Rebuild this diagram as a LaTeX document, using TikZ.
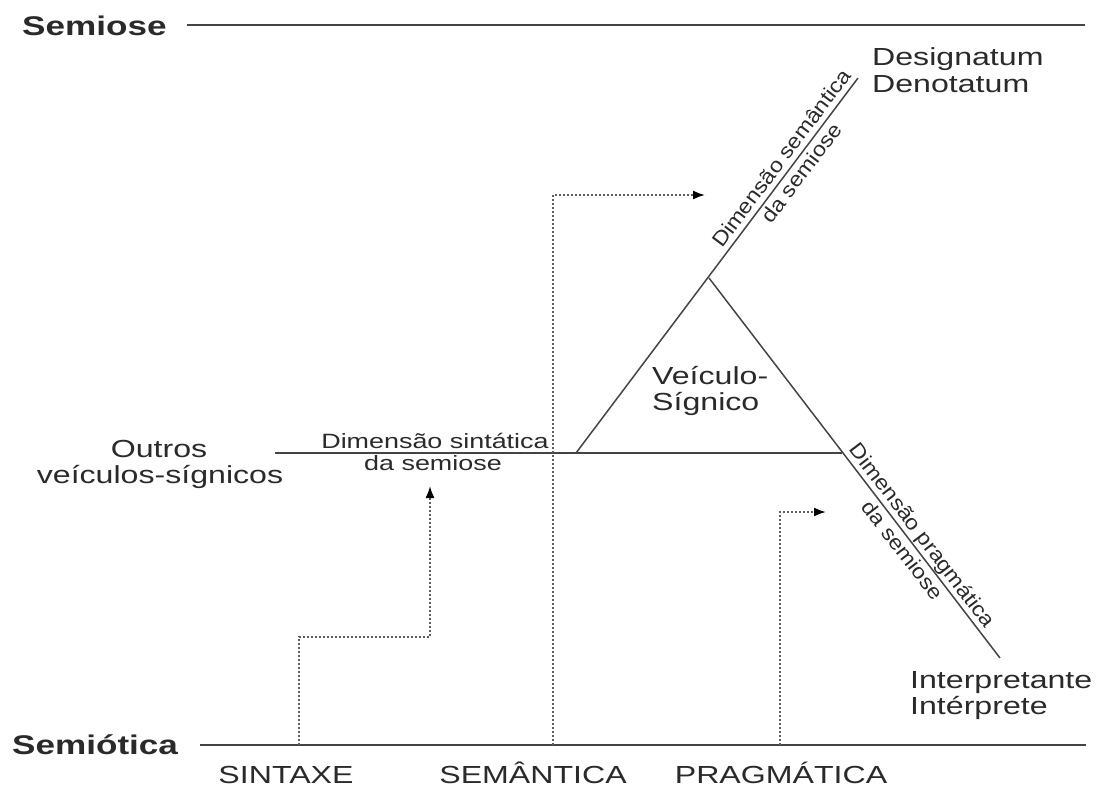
\documentclass[tikz,border=0pt]{standalone}
\usepackage{fontspec}
\usetikzlibrary{arrows.meta}
\newfontfamily\hfont[FakeStretch=1.3]{Liberation Sans}
\newfontfamily\rfont[FakeStretch=1.12]{Liberation Sans}
\definecolor{ink}{HTML}{2A2A2A}
\definecolor{lin}{HTML}{444444}
\definecolor{dotc}{HTML}{5E5E5E}
\tikzset{
  lbl/.style={inner sep=0pt, text=ink, font=\hfont\fontsize{24.7}{26}\selectfont},
  ttl/.style={inner sep=0pt, text=ink, font=\hfont\bfseries\fontsize{27}{29}\selectfont},
  dimtxt/.style={inner sep=0pt, text=ink, font=\hfont\fontsize{20.7}{22}\selectfont},
  rdimtxt/.style={inner sep=0pt, text=ink, font=\rfont\fontsize{20.7}{22}\selectfont},
  sline/.style={draw=lin, line width=1.5pt},
  dline/.style={draw=dotc, line width=1.8pt, dash pattern=on 1.8pt off 2.2pt,
    -{Latex[length=12pt,width=9pt,color=black]}},
}
\begin{document}
\begin{tikzpicture}[x=1pt,y=-1pt]
\useasboundingbox (0,0) rectangle (1100,787);
% titles
\node[ttl,anchor=base west] (semiose) at (22,35) {Semiose};
\node[ttl,anchor=base west] (semiotica) at (12,754) {Semiótica};
\coordinate (s1) at (187,25); \coordinate (s2) at (1085,25);
\coordinate (t1) at (200,745); \coordinate (t2) at (1086,745);
\draw[sline] (s1) -- (s2);
\draw[sline] (t1) -- (t2);
% bottom labels
\node[lbl,anchor=base] (sint) at (286,783) {SINTAXE};
\node[lbl,anchor=base] (sem) at (533,783) {SEMÂNTICA};
\node[lbl,anchor=base] (prag) at (781,783) {PRAGMÁTICA};
% triangle and dimension lines
\coordinate (L) at (576,453);
\coordinate (A) at (709,278);
\coordinate (R) at (842,453);
\coordinate (Top) at (858,78);
\coordinate (Bot) at (1000,658);
\coordinate (H) at (275,453);
\draw[sline] (L) -- (Top);
\draw[sline] (A) -- (Bot);
\draw[sline] (H) -- (R);
% end labels
\node[lbl,anchor=base west] (desig) at (872,65) {Designatum};
\node[lbl,anchor=base west] (denot) at (872,92) {Denotatum};
\node[lbl,anchor=base west] (interp) at (910,688) {Interpretante};
\node[lbl,anchor=base west] (interp2) at (910,714) {Intérprete};
\node[lbl,anchor=base] (outros) at (159,457) {Outros};
\node[lbl,anchor=base] (outros2) at (160,483) {veículos-sígnicos};
\node[lbl,anchor=base west] (veic) at (652,384) {Veículo-};
\node[lbl,anchor=base west] (veic2) at (652,410) {Sígnico};
% dimension labels
\node[dimtxt,anchor=base] (dsin1) at (435,448) {Dimensão sintática};
\node[dimtxt,anchor=base] (dsin2) at (433,470) {da semiose};
\node[rdimtxt,anchor=base,rotate=53.1] (dsem1) at (787.2,162.4) {Dimensão semântica};
\node[rdimtxt,anchor=base,rotate=53.1] (dsem2) at (807.2,177.4) {da semiose};
\node[rdimtxt,anchor=base,rotate=-52.6] (dpra1) at (916.8,539.4) {Dimensão pragmática};
\node[rdimtxt,anchor=base,rotate=-52.6] (dpra2) at (896.9,554.6) {da semiose};
% dotted arrows
\coordinate (a0) at (299,745); \coordinate (a1) at (299,637);
\coordinate (a2) at (430,637); \coordinate (a3) at (430,486);
\draw[dline] (a0) -- (a1) -- (a2) -- (a3);
\coordinate (b0) at (553,745); \coordinate (b1) at (553,195);
\coordinate (b2) at (705,195);
\draw[dline] (b0) -- (b1) -- (b2);
\coordinate (c0) at (780,745); \coordinate (c1) at (780,512);
\coordinate (c2) at (826,512);
\draw[dline] (c0) -- (c1) -- (c2);
\end{tikzpicture}
\end{document}
